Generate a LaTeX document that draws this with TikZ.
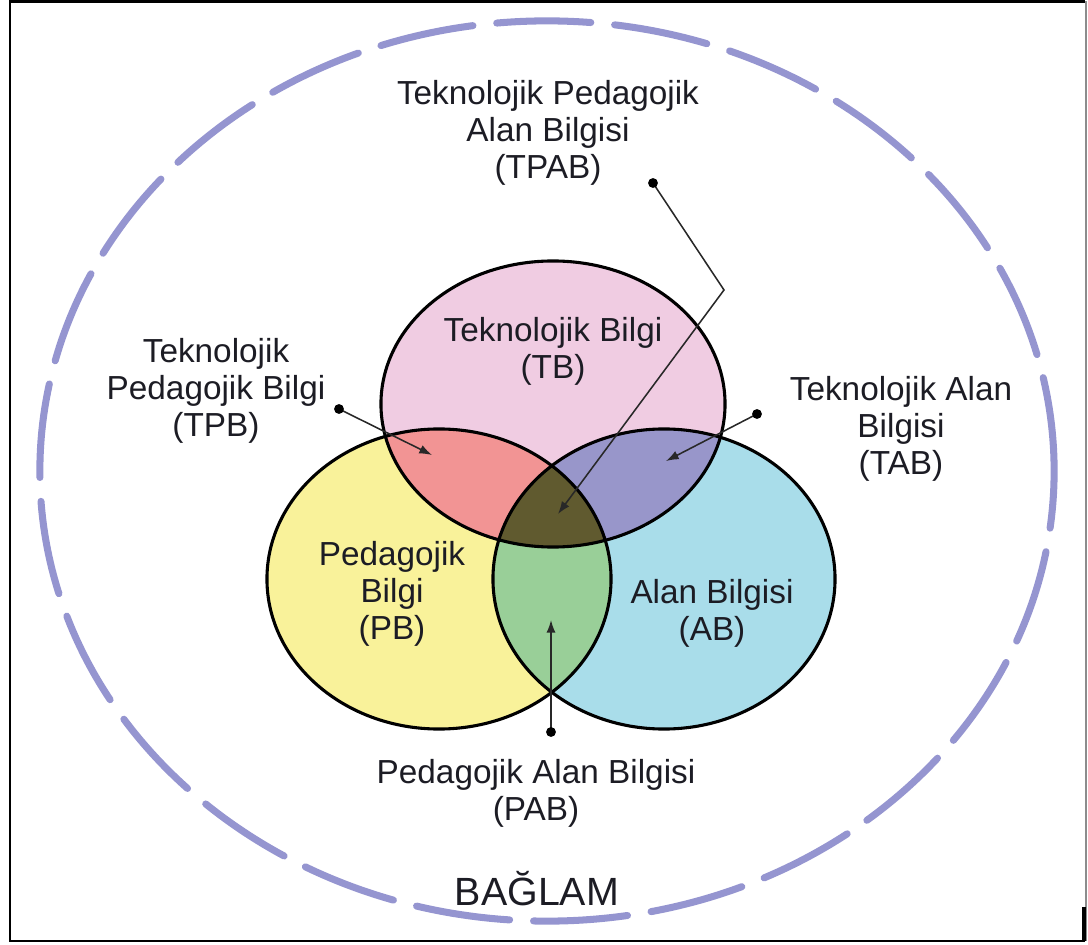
\documentclass[tikz,border=0pt]{standalone}
\usepackage{fontspec}
\setmainfont{Liberation Sans}
\usetikzlibrary{arrows.meta}

\definecolor{tbfill}{RGB}{240,204,226}
\definecolor{pbfill}{RGB}{249,242,154}
\definecolor{abfill}{RGB}{169,221,234}
\definecolor{tpbfill}{RGB}{242,148,148}
\definecolor{tabfill}{RGB}{152,150,202}
\definecolor{pabfill}{RGB}{153,207,152}
\definecolor{tpabfill}{RGB}{96,90,47}
\definecolor{ctxline}{RGB}{149,149,208}
\definecolor{txt}{RGB}{28,28,36}
\definecolor{pointer}{RGB}{40,40,40}

\tikzset{
  tbR/.style={x radius=4.3cm, y radius=3.575cm},
  pbR/.style={x radius=4.3cm, y radius=3.75cm},
  abR/.style={x radius=4.275cm, y radius=3.75cm},
  rim/.style={draw=black, line width=2.2pt},
  lbl/.style={text=txt, align=center, inner sep=0pt,
    font=\fontsize{23.7pt}{26.3pt}\selectfont},
  pointerline/.style={draw=pointer, line width=1.1pt},
  pointerarrow/.style={pointerline, -{Latex[length=9pt,width=6.5pt]}},
  pointerdot/.style={fill=black, draw=none},
}

\begin{document}
\begin{tikzpicture}[x=0.025cm, y=-0.025cm]
\useasboundingbox (0,0) rectangle (1088,945);

% frame
\draw[black, line width=1.6pt] (1085,941) -- (10,941) -- (10,1.5) -- (1085,1.5);
\draw[black!45, line width=0.8pt] (1086,1.5) -- (1086,941);
\draw[black, line width=2.2pt] (1084,907) -- (1084,941);

% context: dashed outer ellipse
\draw[ctxline, line width=5pt, line cap=round, dash pattern=on 67pt off 17pt]
  (547,471) ellipse [x radius=12.675cm, y radius=11.25cm];

% centres of the three knowledge areas
\coordinate (cTB) at (553,404);
\coordinate (cPB) at (439,579);
\coordinate (cAB) at (664,579);

% base fills
\fill[tbfill] (cTB) ellipse [tbR];
\fill[pbfill] (cPB) ellipse [pbR];
\fill[abfill] (cAB) ellipse [abR];

% pairwise overlaps
\begin{scope}
  \clip (cTB) ellipse [tbR];
  \fill[tpbfill] (cPB) ellipse [pbR];
  \fill[tabfill] (cAB) ellipse [abR];
\end{scope}
\begin{scope}
  \clip (cPB) ellipse [pbR];
  \fill[pabfill] (cAB) ellipse [abR];
\end{scope}
% triple overlap
\begin{scope}
  \clip (cTB) ellipse [tbR];
  \clip (cPB) ellipse [pbR];
  \fill[tpabfill] (cAB) ellipse [abR];
\end{scope}

% outlines
\draw[rim] (cTB) ellipse [tbR];
\draw[rim] (cPB) ellipse [pbR];
\draw[rim] (cAB) ellipse [abR];

% labels
\node[lbl] (tpab) at (548,133) {Teknolojik Pedagojik\\Alan Bilgisi\\(TPAB)};
\node[lbl] (tb)   at (553,351) {Teknolojik Bilgi\\(TB)};
\node[lbl] (tpb)  at (216,391) {Teknolojik\\Pedagojik Bilgi\\(TPB)};
\node[lbl] (tab)  at (901,429) {Teknolojik Alan\\Bilgisi\\(TAB)};
\node[lbl] (pb)   at (392,594) {Pedagojik\\Bilgi\\(PB)};
\node[lbl] (ab)   at (712,613) {Alan Bilgisi\\(AB)};
\node[lbl] (pab)  at (536,793) {Pedagojik Alan Bilgisi\\(PAB)};
\node[text=txt, inner sep=0pt, anchor=base,
      font=\fontsize{28pt}{32pt}\selectfont] (ctx) at (537,905) {BAĞLAM};

% pointer ends
\coordinate (tpabDot)  at (653,183);
\coordinate (tpabBend) at (724,290);
\coordinate (tpabTip)  at (558,514);
\coordinate (tpbDot)   at (339,409);
\coordinate (tpbTip)   at (432,455);
\coordinate (tabDot)   at (757,414);
\coordinate (tabTip)   at (666,461);
\coordinate (pabDot)   at (551,732);
\coordinate (pabTip)   at (551,620);

% pointers
\draw[pointerarrow] (tpabDot) -- (tpabBend) -- (tpabTip);
\draw[pointerarrow] (tpbDot) -- (tpbTip);
\draw[pointerarrow] (tabDot) -- (tabTip);
\draw[pointerarrow] (pabDot) -- (pabTip);
\foreach \d in {tpabDot,tpbDot,tabDot,pabDot}
  \fill[pointerdot] (\d) circle [radius=3.5pt];
\end{tikzpicture}
\end{document}
